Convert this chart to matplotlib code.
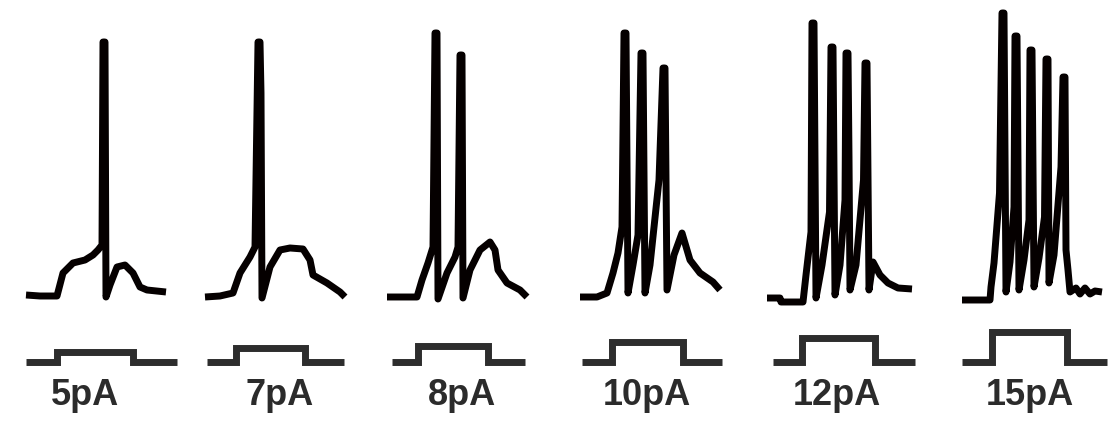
import matplotlib
matplotlib.use("Agg")
import matplotlib.pyplot as plt

# Stimulus amplitudes (pA) and panel labels
labels = ["5pA", "7pA", "8pA", "10pA", "12pA", "15pA"]
currents = [5, 7, 8, 10, 12, 15]

# Membrane potential traces: time (ms), voltage (mV)
t_5pA = [0, 56, 124, 148, 188, 236, 268, 288, 304, 308, 316, 320, 336, 364, 396, 428, 456, 484, 560]
v_5pA = [-68.0, -68.4, -68.4, -59.2, -55.2, -54.0, -52.0, -50.0, -48.0, 33.2, 33.2, -68.8, -64.0,
         -56.8, -56.0, -59.2, -64.8, -66.0, -66.8]

t_7pA = [0, 60, 112, 140, 180, 200, 212, 220, 224, 228, 260, 300, 340, 392, 420, 432, 488, 540, 560]
v_7pA = [-68.8, -68.4, -67.2, -59.2, -52.8, -48.8, 33.2, 33.2, 12.8, -69.2, -56.8, -50.0, -49.2,
         -49.6, -54.0, -60.0, -63.2, -66.8, -68.8]

t_8pA = [0, 120, 140, 164, 184, 192, 200, 204, 240, 272, 284, 292, 300, 304, 332, 372, 412, 432,
         444, 480, 532, 560]
v_8pA = [-68.8, -68.8, -62.0, -55.2, -48.8, 36.8, 36.8, -69.6, -59.2, -52.8, -48.8, 28.0, 28.0,
         -69.2, -58.0, -50.0, -46.8, -50.0, -58.0, -63.2, -66.0, -68.8]

t_10pA = [0, 68, 108, 132, 152, 168, 176, 184, 192, 212, 232, 244, 252, 260, 280, 316, 332, 340,
          348, 376, 408, 440, 480, 532, 560]
v_10pA = [-68.8, -68.8, -67.2, -59.2, -51.2, -40.8, 36.8, 36.8, -67.2, -56.0, -44.0, 28.8, 28.8,
          -67.2, -56.0, -22.0, 22.8, 22.8, -66.0, -52.0, -43.2, -54.0, -59.2, -62.8, -66.0]

t_12pA = [0, 52, 56, 144, 156, 176, 180, 188, 196, 220, 250, 256, 264, 272, 292, 312, 316, 324,
          328, 332, 356, 386, 392, 400, 408, 424, 452, 484, 524, 580]
v_12pA = [-69.2, -69.2, -70.8, -70.8, -60.0, -42.8, 40.8, 40.8, -69.2, -56.0, -34.8, 31.2, 31.2,
          -68.0, -56.0, -30.0, 28.8, 28.8, -12.8, -66.0, -56.0, -22.0, 24.8, 24.8, -66.0, -54.8,
          -60.0, -63.2, -65.2, -65.6]

t_15pA = [0, 112, 116, 128, 150, 160, 168, 176, 192, 208, 212, 220, 228, 248, 268, 272, 280, 288,
          308, 330, 336, 344, 348, 368, 396, 404, 412, 416, 424, 432, 456, 472, 492, 512, 532, 560]
v_15pA = [-70.0, -70.0, -64.8, -55.2, -27.2, 44.8, 44.8, -66.8, -54.8, -32.8, 35.6, 35.6, -66.0,
          -54.0, -38.0, 30.0, 30.0, -64.8, -53.2, -36.8, 26.4, 26.4, -63.2, -52.0, -16.8, 19.2,
          19.2, -50.0, -58.0, -66.8, -65.2, -67.6, -65.2, -67.6, -66.4, -66.8]

traces_t = [t_5pA, t_7pA, t_8pA, t_10pA, t_12pA, t_15pA]
traces_v = [v_5pA, v_7pA, v_8pA, v_10pA, v_12pA, v_15pA]

# Current step protocol (ms)
step_on = [124, 124, 124, 128, 140, 120]
step_off = [428, 400, 404, 412, 432, 420]
step_start = [0, 8, 20, 8, 24, 0]
step_end = [604, 556, 552, 568, 592, 580]
label_t = [236, 300, 300, 268, 280, 272]

# layout (pixels)
W, H = 1120, 434
panel_left = [26, 205, 387, 580, 767, 962]
panel_w = 160

fig = plt.figure(figsize=(W / 100, H / 100), dpi=100)
fig.patch.set_facecolor("white")

for i in range(len(labels)):
    left = panel_left[i] / W

    ax_v = fig.add_axes([left, (H - 320) / H, panel_w / W, 320 / H])
    ax_v.plot(traces_t[i], traces_v[i], color="#050000", lw=5,
              solid_joinstyle="round", solid_capstyle="butt", clip_on=False)
    ax_v.set_xlim(0, 640)
    ax_v.set_ylim(-78, 50)
    ax_v.axis("off")

    ax_i = fig.add_axes([left, (H - 375) / H, panel_w / W, 55 / H])
    st = [step_start[i], step_on[i], step_on[i], step_off[i], step_off[i], step_end[i]]
    si = [0, 0, currents[i], currents[i], 0, 0]
    ax_i.plot(st, si, color="#2d2d2d", lw=5,
              solid_joinstyle="miter", solid_capstyle="butt", clip_on=False)
    ax_i.set_xlim(0, 640)
    ax_i.set_ylim(-6.5, 21)
    ax_i.axis("off")
    ax_i.text(label_t[i], -0.545, labels[i], transform=ax_i.get_xaxis_transform(),
              ha="center", va="baseline", fontsize=26, fontweight="bold",
              family="Liberation Sans", color="#2b2b2b")

fig.savefig("out.png", dpi=100, facecolor="white")
